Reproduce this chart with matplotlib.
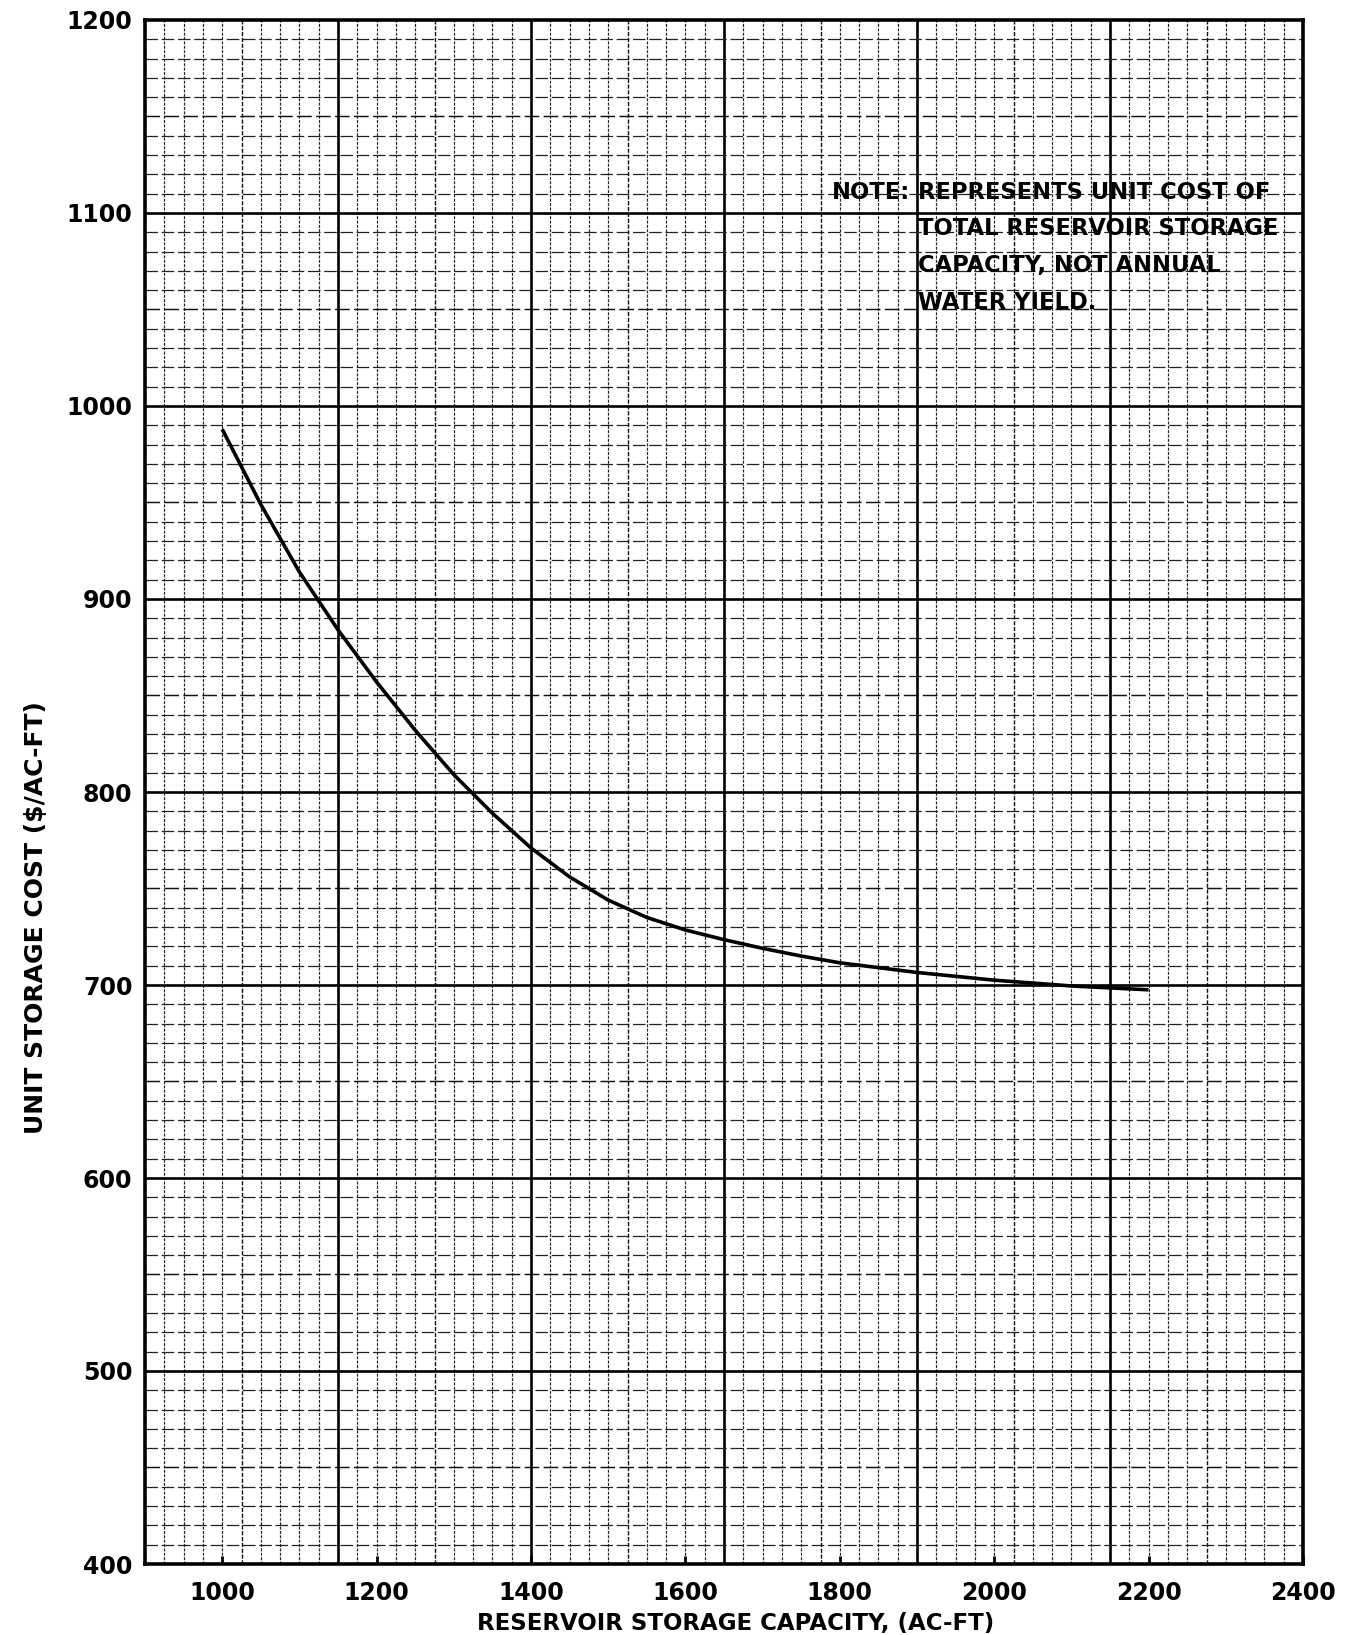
import matplotlib
matplotlib.use('Agg')
import matplotlib.pyplot as plt
import numpy as np

# ---- data ----
capacity = [1000, 1050, 1100, 1150, 1200, 1250, 1300, 1350, 1400, 1450, 1500,
            1550, 1600, 1650, 1700, 1750, 1800, 1900, 2000, 2100, 2200]
unit_cost = [988, 949, 914, 884, 857, 832, 809, 789, 771, 756, 744,
             735, 728.5, 723.5, 719, 715, 711.5, 706.5, 702.5, 699.5, 697.5]

x_ticks = [1000, 1200, 1400, 1600, 1800, 2000, 2200, 2400]
y_ticks = [400, 500, 600, 700, 800, 900, 1000, 1100, 1200]

note_head = "NOTE:"
note_lines = ["REPRESENTS UNIT COST OF",
              "TOTAL RESERVOIR STORAGE",
              "CAPACITY, NOT ANNUAL",
              "WATER YIELD."]

xlabel = "RESERVOIR STORAGE CAPACITY, (AC-FT)"
ylabel = "UNIT STORAGE COST ($/AC-FT)"

# ---- figure ----
W, H = 1354, 1635
fig = plt.figure(figsize=(W / 100, H / 100), dpi=100)
ax = fig.add_axes([145 / W, 71 / H, 1158 / W, 1544 / H])
ax.set_xlim(900, 2400)
ax.set_ylim(400, 1200)

# graph-paper grid
gx = np.arange(925, 2400, 25)
gy = np.arange(410, 1200, 10)
for i, x in enumerate(gx, start=1):
    if i % 10 == 0:
        ax.axvline(x, color='k', lw=1.9, zorder=1)
    elif i % 5 == 0:
        ax.axvline(x, color='#111111', lw=1.0, ls=(0, (3, 1.2)), zorder=1)
    else:
        ax.axvline(x, color='#222222', lw=0.85, ls=(0, (2.5, 1.2)), zorder=1)
for i, y in enumerate(gy, start=1):
    if i % 10 == 0:
        ax.axhline(y, color='k', lw=1.9, zorder=1)
    elif i % 5 == 0:
        ax.axhline(y, color='#111111', lw=1.05, ls=(0, (10, 3)), zorder=1)
    else:
        ax.axhline(y, color='#222222', lw=0.9, ls=(0, (10, 3)), zorder=1)

# curve
ax.plot(capacity, unit_cost, color='k', lw=2.6, solid_capstyle='butt',
        solid_joinstyle='round', zorder=3)

# spines / ticks
for s in ax.spines.values():
    s.set_linewidth(2.6)
    s.set_color('k')
ax.set_xticks(x_ticks)
ax.set_yticks(y_ticks)
ax.set_xticklabels([str(v) for v in x_ticks])
ax.set_yticklabels([str(v) for v in y_ticks])
ax.tick_params(axis='x', direction='in', length=6, width=2, pad=12)
ax.tick_params(axis='y', direction='in', length=0, pad=9)
for lab in ax.get_xticklabels() + ax.get_yticklabels():
    lab.set_fontfamily('DejaVu Sans')
    lab.set_fontweight('bold')
    lab.set_fontsize(17)

# axis labels
ax.text(0.51, -0.0385, xlabel, transform=ax.transAxes, ha='center', va='center',
        fontsize=16.5, fontweight='bold', family='DejaVu Sans')
ax.text(-0.094, 0.419, ylabel, transform=ax.transAxes, ha='center', va='center',
        rotation=90, fontsize=18, fontweight='bold', family='DejaVu Sans')

# note
note_y = [1110.5, 1092, 1073, 1053.5]
ax.text(1790, note_y[0], note_head, ha='left', va='center', fontsize=16.3,
        fontweight='bold', family='DejaVu Sans', zorder=4)
for yy, line in zip(note_y, note_lines):
    ax.text(1901, yy, line, ha='left', va='center', fontsize=16.3,
            fontweight='bold', family='DejaVu Sans', zorder=4)

fig.savefig('out.png', dpi=100)
